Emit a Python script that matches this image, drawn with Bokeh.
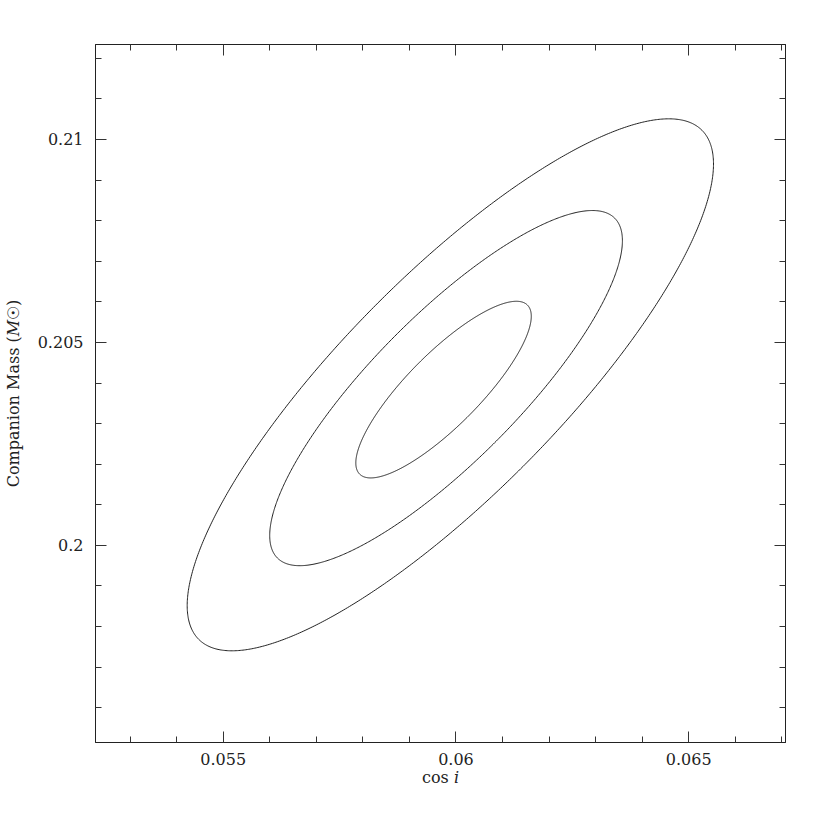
import numpy as np
from bokeh.plotting import figure
from bokeh.models import FixedTicker, LinearAxis, Range1d
from bokeh.embed import file_html
from bokeh.resources import INLINE

# Axis ranges and ticks
x_range = (0.052255, 0.06708)
y_range = (0.195144, 0.21234)
x_major = [0.055, 0.06, 0.065]
x_minor = [0.053, 0.054, 0.056, 0.057, 0.058, 0.059, 0.061, 0.062, 0.063, 0.064, 0.066, 0.067]
y_major = [0.2, 0.205, 0.21]
y_minor = [0.196, 0.197, 0.198, 0.199, 0.201, 0.202, 0.203, 0.204,
           0.206, 0.207, 0.208, 0.209, 0.211, 0.212]
x_labels = {0.055: "0.055", 0.06: "0.06", 0.065: "0.065"}
y_labels = {0.2: "0.2", 0.205: "0.205", 0.21: "0.21"}

# Contours (1, 2, 3 sigma): centre, half-extent in x and y, correlation
contour_cx = [0.059733, 0.059787, 0.059879]
contour_cy = [0.203838, 0.203875, 0.203956]
contour_ax = [0.001885, 0.003789, 0.005654]
contour_ay = [0.002176, 0.004375, 0.006553]
contour_rho = [0.83, 0.83, 0.83]

FONT = "DejaVu Serif"

p = figure(width=820, height=820, output_backend="svg", toolbar_location=None,
           x_range=Range1d(*x_range), y_range=Range1d(*y_range),
           min_border_left=90, min_border_right=35, min_border_top=44, min_border_bottom=78,
           x_axis_label="cos 𝑖", y_axis_label="Companion Mass (𝑀☉)")
p.grid.visible = False
p.outline_line_color = "#222222"
p.outline_line_width = 1
p.background_fill_color = "white"
p.border_fill_color = "white"

t = np.linspace(0, 2 * np.pi, 721)
for cx, cy, ax, ay, rho in zip(contour_cx, contour_cy, contour_ax, contour_ay, contour_rho):
    xs = cx + ax * np.cos(t)
    ys = cy + ay * (rho * np.cos(t) + np.sqrt(1 - rho ** 2) * np.sin(t))
    p.line(xs, ys, line_color="#222222", line_width=1)

def style_axis(axis, ticks, minor, labels, show_labels):
    axis.ticker = FixedTicker(ticks=ticks, minor_ticks=minor)
    axis.major_tick_in = 11
    axis.major_tick_out = 0
    axis.minor_tick_in = 6
    axis.minor_tick_out = 0
    axis.axis_line_color = "#222222"
    axis.major_tick_line_color = "#333333"
    axis.minor_tick_line_color = "#333333"
    axis.major_label_text_font = FONT
    axis.axis_label_text_font = FONT
    axis.axis_label_text_font_style = "normal"
    axis.axis_label_text_color = "#222222"
    axis.major_label_text_color = "#222222"
    axis.major_label_text_font_size = "16px"
    axis.axis_label_text_font_size = "16px"
    if show_labels:
        axis.major_label_overrides = labels
        axis.major_label_standoff = 12
    else:
        axis.major_label_overrides = {k: "" for k in labels}
        axis.major_label_standoff = 0

style_axis(p.xaxis[0], x_major, x_minor, x_labels, True)
style_axis(p.yaxis[0], y_major, y_minor, y_labels, True)
p.xaxis[0].major_label_standoff = 10
p.xaxis[0].axis_label_standoff = 0
p.yaxis[0].axis_label_standoff = 12

top = LinearAxis()
right = LinearAxis()
p.add_layout(top, "above")
p.add_layout(right, "right")
style_axis(top, x_major, x_minor, x_labels, False)
style_axis(right, y_major, y_minor, y_labels, False)

open("out.html", "w").write(file_html(p, INLINE))
